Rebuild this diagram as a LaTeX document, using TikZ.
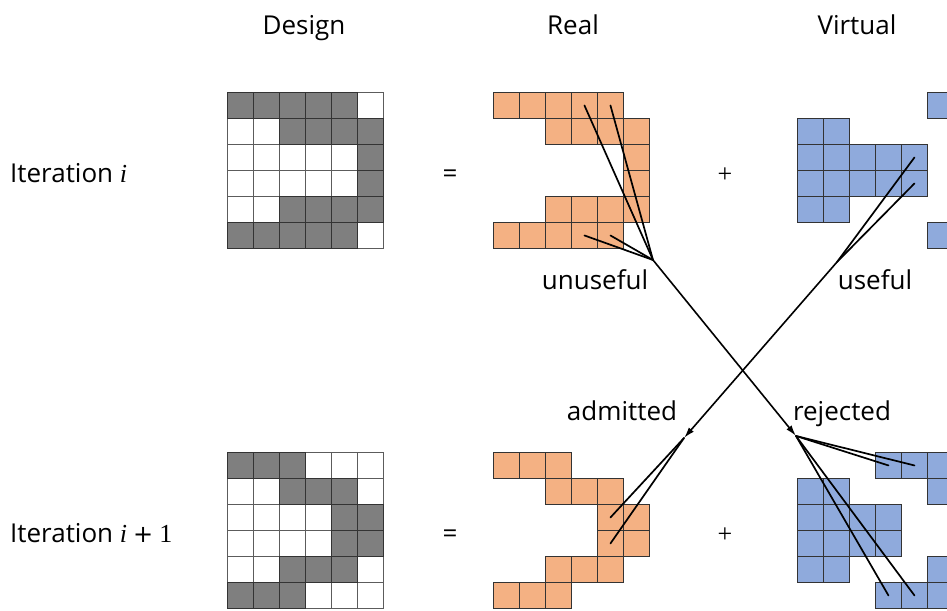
\documentclass[tikz,border=0pt]{standalone}
\usepackage{fontspec}
\setmainfont{Open Sans}
\newfontfamily\varfont{Liberation Serif}
\newfontfamily\opfont{DejaVu Sans}
\usetikzlibrary{arrows.meta}

\definecolor{cellgray}{HTML}{7F7F7F}
\definecolor{realfill}{HTML}{F4B183}
\definecolor{virtfill}{HTML}{8FAADC}
\definecolor{celledge}{HTML}{333333}

\tikzset{
  cell/.style={rectangle, anchor=north west, minimum size=26pt, inner sep=0pt,
               draw=celledge, line width=0.9pt},
  graycell/.style={cell, fill=cellgray},
  whitecell/.style={cell, fill=white, draw=celledge!80},
  realcell/.style={cell, fill=realfill},
  virtcell/.style={cell, fill=virtfill},
  label/.style={inner sep=0pt, font=\fontsize{26}{30}\selectfont},
  head/.style={label, anchor=base},
  fan/.style={line width=1.7pt, line cap=round},
  flow/.style={line width=1.6pt, -{Latex[length=11pt,width=6.5pt]}},
}

% one cell per row/column pair, named <grid>-<row>-<col>
\newcommand\cellgrid[5]{%
  \foreach \r/\c in {#5}
    \node[#4] (#1-\r-\c) at ({#2+26*\c},{#3+26*\r}) {};}
% iteration variable, set like a math italic
\newcommand\itervar{{\varfont\itshape i}}

\begin{document}
\begin{tikzpicture}[x=1pt,y=-1pt]
\useasboundingbox (0,0) rectangle (947,610);
\clip (0,0) rectangle (947,610);

% column headings
\node[head] (hdesign) at (304,35) {Design};
\node[head] (hreal) at (573,35) {Real};
\node[head] (hvirt) at (857,35) {Virtual};

% row headings
\node[label, anchor=base west] (iter) at (10,182) {Iteration \itervar};
\node[label, anchor=base west] (iternext) at (10,542)
  {Iteration \itervar\kern6pt{\opfont\fontsize{24}{28}\selectfont+}\kern6pt{\varfont 1}};

% operators
\node[head] (eqtop) at (450,182) {=};
\node[head] (pltop) at (725,182) {{\varfont+}};
\node[head] (eqbot) at (450,542) {=};
\node[head] (plbot) at (725,542) {{\varfont+}};

% iteration i: design
\cellgrid{dt}{227}{92}{whitecell}{0/0,0/1,0/2,0/3,0/4,0/5,1/0,1/1,1/2,1/3,1/4,1/5,
  2/0,2/1,2/2,2/3,2/4,2/5,3/0,3/1,3/2,3/3,3/4,3/5,4/0,4/1,4/2,4/3,4/4,4/5,
  5/0,5/1,5/2,5/3,5/4,5/5}
\cellgrid{dt}{227}{92}{graycell}{0/0,0/1,0/2,0/3,0/4,1/2,1/3,1/4,1/5,2/5,3/5,
  4/2,4/3,4/4,4/5,5/0,5/1,5/2,5/3,5/4}
% iteration i: real
\cellgrid{rt}{493}{92}{realcell}{0/0,0/1,0/2,0/3,0/4,1/2,1/3,1/4,1/5,2/5,3/5,
  4/2,4/3,4/4,4/5,5/0,5/1,5/2,5/3,5/4}
% iteration i: virtual
\cellgrid{vt}{797}{92}{virtcell}{0/5,1/0,1/1,2/0,2/1,2/2,2/3,2/4,
  3/0,3/1,3/2,3/3,3/4,4/0,4/1,5/5}

% iteration i+1: design
\cellgrid{db}{227}{452}{whitecell}{0/0,0/1,0/2,0/3,0/4,0/5,1/0,1/1,1/2,1/3,1/4,1/5,
  2/0,2/1,2/2,2/3,2/4,2/5,3/0,3/1,3/2,3/3,3/4,3/5,4/0,4/1,4/2,4/3,4/4,4/5,
  5/0,5/1,5/2,5/3,5/4,5/5}
\cellgrid{db}{227}{452}{graycell}{0/0,0/1,0/2,1/2,1/3,1/4,2/4,2/5,3/4,3/5,
  4/2,4/3,4/4,5/0,5/1,5/2}
% iteration i+1: real
\cellgrid{rb}{493}{452}{realcell}{0/0,0/1,0/2,1/2,1/3,1/4,2/4,2/5,3/4,3/5,
  4/2,4/3,4/4,5/0,5/1,5/2}
% iteration i+1: virtual
\cellgrid{vb}{797}{452}{virtcell}{0/3,0/4,0/5,1/0,1/1,1/5,2/0,2/1,2/2,2/3,
  3/0,3/1,3/2,3/3,4/0,4/1,4/5,5/3,5/4,5/5}

% gathering and spreading points
\coordinate (unuse) at (653,260);
\coordinate (use) at (837,262);
\coordinate (adm) at (684,438);
\coordinate (rej) at (796,436);

% unuseful real cells
\foreach \n in {rt-0-3,rt-0-4,rt-5-3,rt-5-4}
  \draw[fan] (\n.center) -- (unuse);
% useful virtual cells
\foreach \n in {vt-2-4,vt-3-4}
  \draw[fan] (\n.center) -- (use);

% the two flows
\draw[flow] (unuse) -- (rej);
\draw[flow] (use) -- (adm);

% admitted cells become real
\foreach \n in {rb-2-4,rb-3-4}
  \draw[fan] (adm) -- (\n.center);
% rejected cells become virtual
\foreach \n in {vb-0-3,vb-0-4,vb-5-3,vb-5-4}
  \draw[fan] (rej) -- (\n.center);

% flow labels
\node[head] (lunuse) at (595,289) {unuseful};
\node[head] (luse) at (875,289) {useful};
\node[head] (ladm) at (622,420) {admitted};
\node[head] (lrej) at (842,420) {rejected};
\end{tikzpicture}
\end{document}
